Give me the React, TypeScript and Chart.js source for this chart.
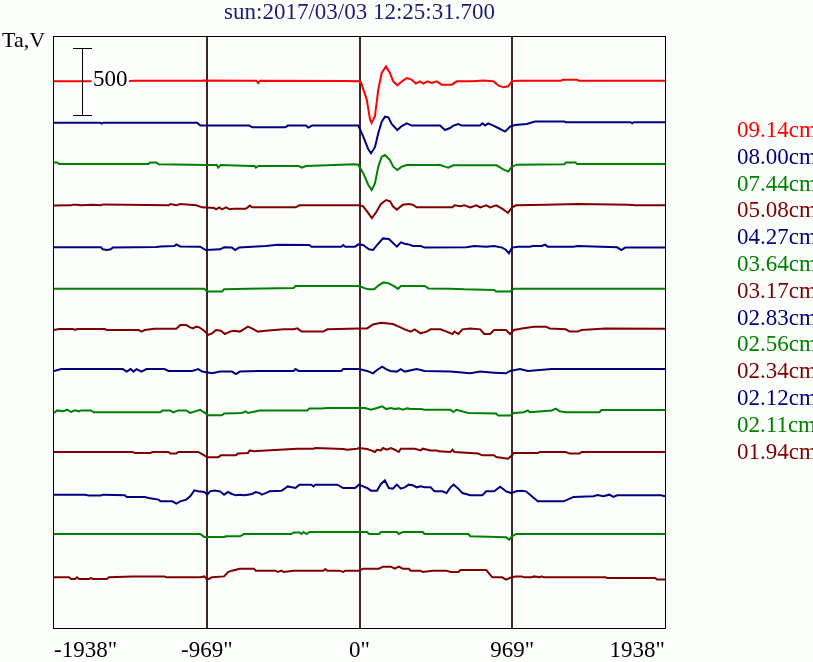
import { useEffect, useRef } from "react";
import { Chart, registerables } from "chart.js";

Chart.register(...registerables);

// ---------- data ----------
const titleText = "sun:2017/03/03 12:25:31.700";
const yUnitLabel = "Ta,V";
const xTickValues = [-1938, -969, 0, 969, 1938];
const scaleBarValue = 500;

const traceLabels = [
  "09.14cm", "08.00cm", "07.44cm", "05.08cm", "04.27cm", "03.64cm", "03.17cm",
  "02.83cm", "02.56cm", "02.34cm", "02.12cm", "02.11cm", "01.94cm",
];

// vertical offset (Ta, V) of each trace's zero level
const traceOffsets = [4100, 3790, 3480, 3170, 2855, 2545, 2240, 1935, 1625, 1320, 1000, 705, 380];

// each trace: [position arcsec, Ta deviation]
const trace0914 = [[-1938,0],[-1460,0],[-1440,5],[-1000,5],[-990,7],[-700,5],[-655,5],[-643,-12],[-630,5],[-100,2],[0,0],[10,-10],[46,-137],[67,-287],[77,-312],[98,-262],[119,-62],[141,63],[168,112],[193,63],[214,0],[240,-30],[270,0],[300,25],[330,13],[358,-17],[384,0],[405,-17],[430,0],[458,-12],[490,0],[521,-25],[585,-25],[617,0],[722,0],[785,7],[849,0],[880,-30],[912,-45],[944,-37],[966,0],[1000,5],[1280,5],[1290,12],[1380,12],[1390,5],[1938,5]];
const trace0800 = [[-1938,0],[-1645,0],[-1635,-7],[-1625,0],[-1030,0],[-1010,-22],[-700,-22],[-680,-35],[-470,-35],[-455,-22],[-340,-22],[-325,-37],[-300,-22],[-8,-22],[24,-105],[56,-200],[73,-229],[98,-184],[119,-80],[141,8],[162,45],[183,40],[204,-10],[240,-55],[268,-25],[300,-5],[331,-22],[511,-22],[542,-55],[574,-40],[595,-22],[627,-10],[648,-22],[764,-22],[779,-5],[796,-22],[817,-5],[849,-22],[880,-40],[923,-67],[955,-30],[986,-17],[1061,-10],[1113,8],[1300,8],[1310,3],[1720,3],[1730,-5],[1740,3],[1938,3]];
const trace0744 = [[-1938,12],[-1918,12],[-1905,0],[-1338,0],[-1330,12],[-1288,12],[-1275,-2],[-965,-7],[-905,-7],[-897,-27],[-880,-7],[-690,-15],[-665,-15],[-658,-27],[-640,-15],[-385,-15],[-365,-27],[-340,-15],[-30,-2],[-8,-5],[24,-70],[56,-157],[77,-195],[98,-145],[119,-20],[141,55],[162,67],[193,30],[214,-20],[240,-45],[268,-20],[300,-7],[511,-7],[542,-20],[564,-27],[595,-10],[870,-10],[912,-40],[944,-57],[965,-22],[997,-5],[1300,-2],[1310,12],[1370,12],[1380,0],[1938,0]];
const trace0508 = [[-1938,-2],[-1830,0],[-1817,5],[-1792,5],[-1767,0],[-1691,5],[-1641,0],[-1628,7],[-1210,0],[-1200,10],[-1162,0],[-1137,10],[-1036,0],[-998,-15],[-922,-20],[-910,-30],[-890,-15],[-872,-30],[-847,-15],[-822,-30],[-796,-25],[-721,-25],[-696,-2],[-683,-15],[-406,-15],[-380,0],[0,0],[23,-7],[48,-45],[78,-95],[103,-57],[136,10],[169,40],[194,30],[212,-7],[237,-32],[275,5],[312,10],[338,5],[363,-15],[590,-15],[602,0],[640,-7],[665,0],[703,-15],[741,0],[766,-15],[804,0],[829,-15],[867,0],[905,-25],[942,-57],[968,-15],[993,0],[1182,5],[1383,10],[1711,5],[1749,0],[1938,0]];
const trace0427 = [[-1938,0],[-1640,0],[-1628,-15],[-1603,-20],[-1578,-15],[-1565,-2],[-1288,2],[-1263,7],[-1174,10],[-1162,22],[-1137,7],[-1011,5],[-975,-20],[-885,-15],[-859,0],[-809,-2],[-789,-20],[-764,-2],[-708,2],[-595,10],[-519,20],[-318,17],[-305,5],[-116,5],[-103,17],[-91,5],[-28,5],[-8,22],[23,17],[60,-15],[86,-20],[111,17],[149,67],[186,62],[237,5],[262,37],[287,27],[312,22],[338,10],[388,10],[413,-2],[678,0],[728,10],[804,5],[854,10],[905,-2],[930,-20],[948,-45],[968,-2],[1005,5],[1081,5],[1100,10],[1157,10],[1177,20],[1194,5],[1358,5],[1383,10],[1635,0],[1661,-20],[1686,-2],[1938,-2]];
const trace0364 = [[-1938,0],[-985,0],[-965,-22],[-872,-22],[-859,-5],[-708,0],[-418,5],[-406,20],[0,20],[35,2],[60,-5],[93,-5],[123,27],[154,47],[186,40],[224,15],[244,-2],[262,20],[413,20],[438,2],[577,0],[665,-5],[854,-10],[867,-22],[955,-22],[980,0],[1938,0]];
const trace0317 = [[-1938,-5],[-1905,2],[-1817,2],[-1804,-5],[-1792,2],[-1615,2],[-1603,-5],[-1401,-5],[-1383,-17],[-1363,-5],[-1300,5],[-1162,5],[-1137,32],[-1099,32],[-1074,15],[-1056,7],[-1036,20],[-1016,15],[-985,-10],[-960,-42],[-935,-30],[-910,-5],[-879,-10],[-854,-35],[-822,-17],[-796,-10],[-759,-17],[-708,20],[-683,7],[-645,-17],[-595,-10],[-481,0],[-418,0],[-393,7],[-368,-17],[-229,-17],[-204,0],[-3,7],[48,7],[86,37],[136,50],[212,40],[249,20],[287,0],[325,-17],[350,0],[388,-30],[426,-17],[451,0],[514,0],[552,-17],[590,-35],[602,-17],[627,-35],[653,0],[703,7],[766,0],[791,-35],[829,-35],[854,-5],[930,-5],[955,-35],[980,-5],[1031,7],[1106,20],[1182,20],[1207,7],[1308,0],[1333,-17],[1383,-17],[1409,-5],[1560,7],[1938,5]];
const trace0283 = [[-1938,-7],[-1893,7],[-1502,7],[-1477,-12],[-1452,7],[-1434,-12],[-1414,7],[-1383,-12],[-1351,7],[-1237,7],[-1212,-7],[-1061,-7],[-1023,7],[-998,-12],[-935,-25],[-885,-12],[-809,-12],[-784,-30],[-759,-12],[-645,-7],[-418,-7],[-406,7],[-386,-7],[-116,-7],[-103,7],[-3,7],[48,-7],[86,-25],[111,0],[144,25],[169,7],[194,-7],[237,-12],[262,7],[287,-12],[363,7],[413,-7],[577,-12],[703,-25],[766,-12],[854,-20],[930,-25],[955,-7],[1018,7],[1068,-7],[1220,7],[1930,7],[1938,7]];
const trace0256 = [[-1938,-12],[-1918,7],[-1880,0],[-1855,12],[-1830,-5],[-1804,7],[-1779,0],[-1767,7],[-1704,7],[-1686,-7],[-1263,-7],[-1250,7],[-1200,7],[-1182,-7],[-1149,7],[-1099,7],[-1074,-12],[-1011,12],[-980,-12],[-960,-30],[-872,-30],[-859,-17],[-746,-12],[-721,0],[-708,-12],[-633,7],[-330,7],[-318,22],[-242,22],[-204,25],[35,25],[73,12],[111,25],[144,37],[169,17],[199,25],[224,17],[249,22],[275,12],[300,22],[325,17],[388,17],[413,12],[577,12],[595,-5],[615,12],[690,-12],[867,-17],[879,-32],[955,-32],[980,-12],[1043,-7],[1068,7],[1081,-7],[1220,7],[1245,20],[1270,0],[1308,-7],[1522,-7],[1535,10],[1938,10]];
const trace0234 = [[-1938,0],[-1439,0],[-1426,-7],[-1326,-7],[-1313,0],[-1212,0],[-1200,-12],[-1162,-12],[-1149,0],[-1023,0],[-985,-25],[-965,-40],[-897,-40],[-879,-25],[-784,-25],[-771,-12],[-708,-7],[-696,12],[-670,5],[-595,12],[-393,25],[-292,25],[-280,30],[-103,22],[-78,17],[-15,25],[-3,30],[48,22],[73,12],[98,0],[111,17],[136,12],[149,30],[174,17],[199,30],[224,17],[249,0],[262,25],[350,25],[388,12],[401,25],[451,12],[489,12],[501,5],[577,0],[590,17],[602,0],[753,-12],[779,-25],[854,-25],[867,-37],[942,-50],[968,-25],[980,-7],[1131,-7],[1144,0],[1308,0],[1333,-12],[1396,-12],[1409,0],[1938,0]];
const trace0212 = [[-1938,0],[-1741,0],[-1716,-7],[-1641,-7],[-1628,0],[-1489,-5],[-1477,-17],[-1363,-17],[-1338,-25],[-1275,-37],[-1263,-50],[-1187,-50],[-1162,-67],[-1137,-50],[-1099,-37],[-1074,-12],[-1048,32],[-1023,25],[-985,20],[-965,0],[-948,25],[-922,32],[-885,25],[-859,0],[-834,20],[-809,5],[-784,-5],[-759,0],[-733,-5],[-708,0],[-683,5],[-658,20],[-633,12],[-620,0],[-595,12],[-570,25],[-494,30],[-469,50],[-456,62],[-406,50],[-381,75],[-305,75],[-292,62],[-280,75],[-141,75],[-103,50],[-28,50],[-3,75],[23,62],[48,50],[73,30],[111,30],[136,80],[161,107],[186,50],[212,45],[237,75],[262,45],[287,55],[312,75],[338,70],[363,55],[388,62],[413,55],[451,55],[476,25],[527,25],[552,12],[577,55],[597,75],[627,45],[653,12],[703,-5],[779,-5],[804,25],[854,25],[892,60],[930,25],[963,12],[993,25],[1031,30],[1056,25],[1131,-50],[1295,-50],[1358,-17],[1484,-12],[1510,-2],[1547,-12],[1585,0],[1610,-17],[1635,-5],[1913,-5],[1938,-12]];
const trace0211 = [[-1938,0],[-1011,0],[-985,-22],[-859,-22],[-847,-17],[-759,-17],[-733,0],[-431,0],[-418,12],[-381,12],[-368,0],[-355,15],[-335,0],[-318,15],[48,15],[60,0],[123,0],[136,15],[237,15],[249,0],[275,15],[401,15],[413,0],[690,0],[703,-17],[930,-25],[950,-42],[968,-17],[993,0],[1938,0]];
const trace0194 = [[-1938,0],[-1842,0],[-1830,-12],[-1804,-12],[-1792,0],[-1779,-12],[-1716,-12],[-1704,-5],[-1691,-12],[-1603,-12],[-1590,0],[-1439,7],[-1237,7],[-1225,0],[-1011,0],[-985,7],[-965,-17],[-935,0],[-859,7],[-834,40],[-809,50],[-759,65],[-670,65],[-658,50],[-532,50],[-519,40],[-494,50],[-481,40],[-418,50],[-229,50],[-217,62],[-204,50],[-129,50],[-103,40],[-91,50],[-3,50],[23,65],[123,65],[149,80],[199,80],[224,65],[249,80],[275,65],[312,65],[325,50],[388,50],[401,40],[464,50],[552,50],[577,40],[627,40],[640,55],[804,55],[842,0],[905,0],[930,-17],[963,0],[993,7],[1031,7],[1043,0],[1094,0],[1106,7],[1144,0],[1157,7],[1169,0],[1560,0],[1573,-5],[1875,-5],[1888,-17],[1938,-17]];

const traces = [
  trace0914, trace0800, trace0744, trace0508, trace0427, trace0364, trace0317,
  trace0283, trace0256, trace0234, trace0212, trace0211, trace0194,
];

// ---------- styles ----------
const RED = "#ff0000";
const NAVY = "#000080";
const GREEN = "#008000";
const MAROON = "#800000";
const traceColors = [RED, NAVY, GREEN, MAROON, NAVY, GREEN, MAROON, NAVY, GREEN, MAROON, NAVY, GREEN, MAROON];
const BG = "#fcfefc";
const GRID = "#3f2626";
const FONT = '"Liberation Serif", "Times New Roman", serif';

const decorPlugin = {
  id: "decor",
  beforeDraw(chart: any) {
    const { ctx, width, height } = chart;
    ctx.save();
    ctx.fillStyle = BG;
    ctx.fillRect(0, 0, width, height);
    ctx.restore();
  },
  afterDraw(chart: any) {
    const { ctx, chartArea: a } = chart;
    const xs = chart.scales.x;
    const ys = chart.scales.y;
    ctx.save();
    // frame
    ctx.strokeStyle = "#000";
    ctx.lineWidth = 1;
    ctx.strokeRect(a.left - 0.5, a.top + 0.5, a.right - a.left + 1, a.bottom - a.top);

    // unit label
    ctx.fillStyle = "#000";
    ctx.font = `22px ${FONT}`;
    ctx.textBaseline = "alphabetic";
    ctx.textAlign = "left";
    ctx.fillText(yUnitLabel, 2, 47);

    // scale bar
    const bx = Math.round(xs.getPixelForValue(-1760)) + 0.5;
    const yTop = Math.round(ys.getPixelForValue(traceOffsets[0] + scaleBarValue / 2)) + 0.5;
    const yBot = Math.round(ys.getPixelForValue(traceOffsets[0] - scaleBarValue / 2)) + 0.5;
    const yMid = ys.getPixelForValue(traceOffsets[0]);
    ctx.beginPath();
    ctx.moveTo(bx, yTop);
    ctx.lineTo(bx, yBot);
    ctx.moveTo(bx - 9.5, yTop);
    ctx.lineTo(bx + 9.5, yTop);
    ctx.moveTo(bx - 9.5, yBot);
    ctx.lineTo(bx + 9.5, yBot);
    ctx.stroke();
    ctx.font = `23px ${FONT}`;
    const label = String(scaleBarValue);
    const tw = ctx.measureText(label).width;
    ctx.fillStyle = BG;
    ctx.fillRect(bx + 9, yMid - 9, tw + 3, 18);
    ctx.fillStyle = "#000";
    ctx.fillText(label, bx + 10.5, yMid + 4.5);

    // legend
    ctx.font = `23px ${FONT}`;
    chart.data.datasets.forEach((ds: any, i: number) => {
      ctx.fillStyle = ds.borderColor;
      ctx.fillText(ds.label, 737, 137 + i * 26.8);
    });
    ctx.restore();
  },
};

export default function App() {
  const ref = useRef<HTMLCanvasElement | null>(null);

  useEffect(() => {
    if (!ref.current) return;
    const datasets = traces.map((tr, i) => ({
      label: traceLabels[i],
      data: tr.map(([x, v]) => ({ x, y: traceOffsets[i] + v })),
      borderColor: traceColors[i],
      backgroundColor: traceColors[i],
      borderWidth: 2,
      pointRadius: 0,
      tension: 0,
      fill: false,
    }));
    const chart = new Chart(ref.current, {
      type: "line",
      data: { datasets },
      plugins: [decorPlugin],
      options: {
        animation: false,
        responsive: false,
        devicePixelRatio: 1,
        layout: { padding: { left: 54, right: 148, top: 0, bottom: 0 } },
        plugins: {
          legend: { display: false },
          tooltip: { enabled: false },
          title: {
            display: true,
            text: titleText,
            color: "#1c1c70",
            font: { family: FONT, size: 23, weight: "normal", lineHeight: 1 },
            padding: { top: 1, bottom: 12 },
          },
        },
        scales: {
          x: {
            type: "linear",
            min: -1938,
            max: 1938,
            z: 1,
            afterBuildTicks: (s: any) => {
              s.ticks = xTickValues.map((v) => ({ value: v }));
            },
            afterFit: (s: any) => {
              s.height = 34;
            },
            ticks: {
              autoSkip: false,
              maxRotation: 0,
              align: "inner",
              padding: 9,
              color: "#000",
              font: { family: FONT, size: 23 },
              callback: (v: any) => `${v}"`,
            },
            grid: {
              drawTicks: false,
              lineWidth: 2,
              color: (c: any) =>
                c.tick && (c.tick.value === xTickValues[0] || c.tick.value === xTickValues[xTickValues.length - 1])
                  ? "rgba(0,0,0,0)"
                  : GRID,
            },
            border: { display: false },
          },
          y: {
            display: false,
            min: 0,
            max: 4440,
          },
        },
      } as any,
    });
    return () => chart.destroy();
  }, []);

  return (
    <div style={{ position: "fixed", left: 0, top: 0, width: 813, height: 662, background: BG }}>
      <canvas ref={ref} width={813} height={662} style={{ width: 813, height: 662, display: "block" }} />
    </div>
  );
}
